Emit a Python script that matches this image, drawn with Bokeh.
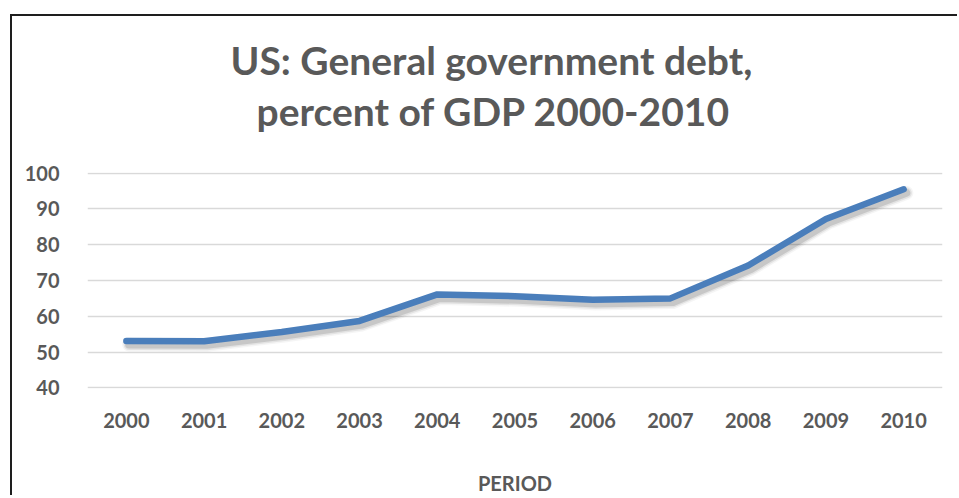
from bokeh.plotting import figure
from bokeh.models import ColumnDataSource, Range1d, SingleIntervalTicker, Title
from bokeh.transform import dodge
from bokeh.embed import file_html
from bokeh.resources import INLINE

years = ["2000", "2001", "2002", "2003", "2004", "2005", "2006", "2007", "2008", "2009", "2010"]
debt = [53.1, 53.0, 55.6, 58.7, 66.1, 65.6, 64.6, 65.0, 74.2, 87.2, 95.5]
title_lines = ["US: General government debt,", "percent of GDP 2000-2010"]
x_title = "PERIOD"

src = ColumnDataSource(data=dict(year=years, debt=debt))

p = figure(x_range=years, y_range=Range1d(39.8, 100.2), width=947, height=481,
           output_backend="svg", toolbar_location=None, title=None,
           min_border_left=75, min_border_right=17, min_border_top=156, min_border_bottom=108)
p.margin = (14, 0, 0, 10)
p.styles = {"border-top": "2px solid #1e1e1e", "border-left": "2px solid #1e1e1e"}
p.outline_line_color = None
p.background_fill_color = "white"
p.border_fill_color = "white"

p.xgrid.grid_line_color = None
p.ygrid.grid_line_color = "#d9d9d9"
p.ygrid.grid_line_width = 1.5
p.yaxis.ticker = SingleIntervalTicker(interval=10)

for ax in (p.xaxis[0], p.yaxis[0]):
    ax.axis_line_color = None
    ax.major_tick_line_color = None
    ax.minor_tick_line_color = None
    ax.major_tick_out = 0
    ax.major_tick_in = 0
    ax.major_label_text_font = "Lato"
    ax.major_label_text_font_style = "bold"
    ax.major_label_text_font_size = "20px"
    ax.major_label_text_color = "#595959"

p.xaxis.major_label_standoff = 24
p.yaxis.major_label_standoff = 24
p.xaxis.axis_label = x_title
p.xaxis.axis_label_text_font = "Lato"
p.xaxis.axis_label_text_font_style = "bold"
p.xaxis.axis_label_text_font_size = "20px"
p.xaxis.axis_label_text_color = "#595959"
p.xaxis.axis_label_standoff = 40

for w, a in [(14, 0.04), (11, 0.07), (8, 0.12)]:
    p.line(x=dodge("year", 0.035, range=p.x_range), y=dodge("debt", -1.0), source=src,
           line_color="black", line_alpha=a, line_width=w,
           line_cap="round", line_join="round")

p.line(x="year", y="debt", source=src, line_color="#4a7ebb", line_width=6.5,
       line_cap="round", line_join="round")

# titles stacked above the frame: spacer, line 2, line 1
spacer = Title(text=" ", text_font_size="30px", standoff=2)
t2 = Title(text=title_lines[1], align="left", offset=169, text_font="Lato", text_font_style="bold",
           text_font_size="39px", text_color="#595959", standoff=4)
t1 = Title(text=title_lines[0], align="left", offset=143, text_font="Lato", text_font_style="bold",
           text_font_size="39px", text_color="#595959", standoff=1)
p.add_layout(spacer, "above")
p.add_layout(t2, "above")
p.add_layout(t1, "above")

open("out.html", "w").write(file_html(p, INLINE))
